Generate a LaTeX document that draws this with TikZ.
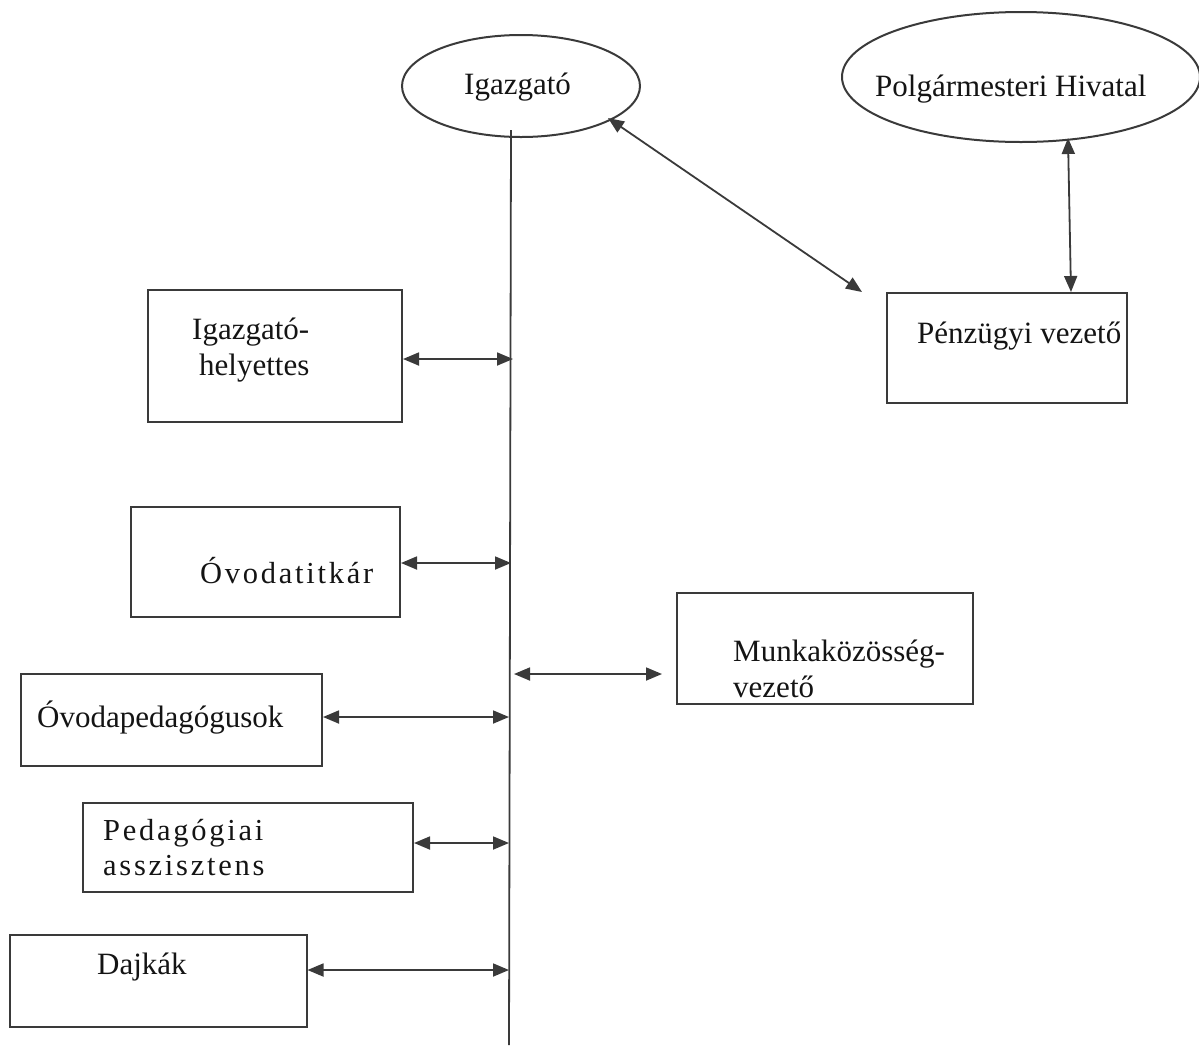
\documentclass[tikz,border=0pt]{standalone}
\usepackage{fontspec}
\setmainfont{Liberation Serif}
\newfontfamily\spaced[LetterSpace=9]{Liberation Serif}
\usetikzlibrary{arrows.meta,shapes.geometric}
\definecolor{ink}{HTML}{3A3A3A}
\definecolor{txt}{HTML}{141414}
\tikzset{
  box/.style={draw=ink, line width=2pt, rectangle, inner sep=0pt},
  oval/.style={draw=ink, line width=2pt, ellipse, inner sep=0pt},
  lbl/.style={anchor=base west, inner sep=0pt, text=txt, font=\fontsize{31}{35}\selectfont},
  slbl/.style={anchor=base west, inner sep=0pt, text=txt, font=\fontsize{30.5}{35}\selectfont\spaced},
  conn/.style={draw=ink, line width=1.8pt, {Triangle[length=16pt,width=13pt]}-{Triangle[length=16pt,width=13pt]}},
  vline/.style={draw=ink, line width=1.8pt}
}
\begin{document}
\begin{tikzpicture}[x=1pt,y=-1pt]
\useasboundingbox (0,0) rectangle (1199,1045);
% ellipses
\node[oval, minimum width=238, minimum height=102] (ig) at (521,86) {};
\node[oval, minimum width=358, minimum height=130] (ph) at (1021,77) {};
\node[lbl] (igt) at (464,94) {Igazgató};
\node[lbl] (pht) at (875,96) {Polgármesteri Hivatal};
% boxes
\node[box, minimum width=254, minimum height=132] (ih) at (275,356) {};
\node[box, minimum width=240, minimum height=110] (pz) at (1007,348) {};
\node[box, minimum width=269, minimum height=110] (ti) at (265.5,562) {};
\node[box, minimum width=296, minimum height=111] (mk) at (825,648.5) {};
\node[box, minimum width=301, minimum height=92] (op) at (171.5,720) {};
\node[box, minimum width=330, minimum height=89] (pa) at (248,847.5) {};
\node[box, minimum width=297, minimum height=92] (dj) at (158,981) {};
% texts
\node[lbl] (iht1) at (192,339) {Igazgató-};
\node[lbl] (iht2) at (199,375) {helyettes};
\node[lbl] (pzt) at (917,343) {Pénzügyi vezető};
\node[slbl] (tit) at (200,583) {Óvodatitkár};
\node[lbl] (mkt1) at (733,661) {Munkaközösség-};
\node[lbl] (mkt2) at (733,697) {vezető};
\node[lbl] (opt) at (37,727) {Óvodapedagógusok};
\node[slbl] (pat1) at (103,840) {Pedagógiai};
\node[slbl] (pat2) at (103,875) {asszisztens};
\node[lbl] (djt) at (97,974) {Dajkák};
% vertical line
\coordinate (vtop) at (511,130);
\coordinate (vbot) at (509,1045);
\draw[vline] (vtop) -- (vbot);
% coordinates on the line
\coordinate (c1) at (513,359);
\coordinate (c2) at (511,563);
\coordinate (c3) at (509,717);
\coordinate (c4) at (509,843);
\coordinate (c5) at (509,970);
\coordinate (m1) at (514,674);
\coordinate (m2) at (662,674);
\coordinate (d1) at (608,118);
\coordinate (d2) at (862,292);
\coordinate (p1) at (1068,138);
\coordinate (p2) at (1071,292);
% connectors
\draw[conn] (ih.east |- c1) -- (c1);
\draw[conn] (ti.east |- c2) -- (c2);
\draw[conn] (op.east |- c3) -- (c3);
\draw[conn] (pa.east |- c4) -- (c4);
\draw[conn] (dj.east |- c5) -- (c5);
\draw[conn] (m1) -- (m2);
\draw[conn] (d1) -- (d2);
\draw[conn] (p1) -- (p2);
\end{tikzpicture}
\end{document}
